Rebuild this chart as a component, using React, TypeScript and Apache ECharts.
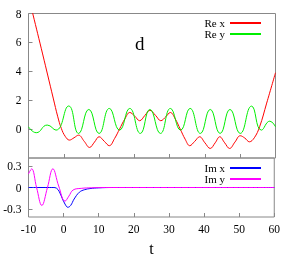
import React, { useEffect, useRef } from "react";
import * as echarts from "echarts";

// t, value pairs
const reX: [number, number][] = [
  [-10, 9.2], [-8.8, 8.0], [-6, 5.2], [-3, 2.15], [-1.7, 0.85], [-0.7, 0.05], [0.4, -0.5], [1.6, -0.76],
  [2.9, -0.6], [4.2, -0.42], [5.8, -0.85], [7.3, -1.27], [8.7, -0.9], [10, -0.53], [11.5, -0.85], [12.9, -1.15],
  [14.4, -0.65], [15.8, 0.0], [17.3, 0.7], [18.7, 1.15], [20.1, 0.9], [21.5, 0.58], [23.0, 0.95], [24.4, 1.3],
  [26.0, 0.95], [27.5, 0.58], [28.9, 0.85], [30.2, 1.15], [31.6, 0.7], [33.0, 0.0], [34.4, -0.7], [35.7, -1.15],
  [37.1, -0.85], [38.5, -0.53], [40.0, -0.95], [41.5, -1.34], [42.9, -0.95], [44.2, -0.53], [45.6, -0.95],
  [47.0, -1.34], [48.5, -0.9], [50.0, -0.46], [51.3, -0.62], [52.6, -0.88], [54.0, -0.6], [55.5, 0.16],
  [57.5, 1.8], [60, 3.9],
];

const reY: [number, number][] = [
  [-10, 0.16], [-7.8, -0.25], [-4.7, 0.28], [-2.2, -0.07], [1.4, 1.6], [4.2, -0.3], [7.1, 1.36], [10, -0.3],
  [12.9, 1.43], [15.8, -0.07], [18.7, 1.43], [21.7, -0.3], [24.4, 1.36], [27.4, -0.3], [30.2, 1.43],
  [33.1, -0.07], [35.8, 1.43], [38.7, -0.3], [41.5, 1.36], [44.3, -0.3], [47.1, 1.36], [50, -0.3],
  [53.2, 1.59], [56, -0.07], [58.4, 0.55], [60, 0.16],
];

const imX: [number, number][] = [
  [-10, 0], [-3, 0], [-2, -0.01], [-1.2, -0.06], [-0.4, -0.15], [0.4, -0.23], [1.2, -0.275], [2.0, -0.25],
  [3.0, -0.16], [4.5, -0.065], [6.0, -0.03], [7.5, -0.015], [10, -0.005], [14, 0], [60, 0],
];

const imY: [number, number][] = [
  [-10, 0.19], [-9.1, 0.26], [-7.7, 0.0], [-6.2, -0.25], [-4.6, 0.0], [-3.05, 0.26], [-1.4, 0.02],
  [0.4, -0.19], [1.5, -0.12], [2.7, -0.035], [5, -0.012], [8, -0.004], [12, 0], [60, 0],
];

const topTicks = [0, 2, 4, 6, 8];
const bottomTicks = [-0.3, 0, 0.3];

const FONT = "Liberation Serif";

export default function App() {
  const ref = useRef<HTMLDivElement>(null);
  useEffect(() => {
    if (!ref.current) return;
    const chart = echarts.init(ref.current, undefined, { renderer: "svg" });
    const gray = "#888888";
    const xCommon = {
      type: "value" as const,
      min: -10,
      max: 60,
      interval: 10,
      axisLine: { show: false, onZero: false },
      axisTick: { show: true, inside: true, length: 4, lineStyle: { color: gray } },
      splitLine: { show: false },
    };
    const legendCommon = {
      orient: "vertical" as const,
      align: "right" as const,
      right: 17,
      itemWidth: 31,
      itemHeight: 2,
      itemGap: 0,
      icon: "rect",
      textStyle: { fontFamily: FONT, fontSize: 11, color: "#000", lineHeight: 11 },
    };
    chart.setOption({
      animation: false,
      grid: [
        { left: 28.5, right: 7.5, top: 13.5, height: 144.5, show: true, borderColor: gray, borderWidth: 1, backgroundColor: "transparent" },
        { left: 28.5, right: 7.5, top: 158, height: 63, show: true, borderColor: gray, borderWidth: 1, backgroundColor: "transparent" },
      ],
      xAxis: [
        { ...xCommon, gridIndex: 0, axisLabel: { show: false } },
        {
          ...xCommon,
          gridIndex: 1,
          axisLabel: { show: true, margin: 6, fontFamily: FONT, fontSize: 11.5, color: "#000" },
          name: "t",
          nameLocation: "middle",
          nameGap: 23,
          nameTextStyle: { fontFamily: FONT, fontSize: 16, color: "#000" },
        },
      ],
      yAxis: [
        {
          type: "value",
          gridIndex: 0,
          min: -2,
          max: 8,
          axisLine: { show: false, onZero: false },
          splitLine: { show: false },
          axisTick: { show: true, inside: true, length: 4, lineStyle: { color: gray }, customValues: topTicks },
          axisLabel: { show: true, margin: 7, fontFamily: FONT, fontSize: 11.5, color: "#000", customValues: topTicks },
        },
        {
          type: "value",
          gridIndex: 1,
          min: -0.41,
          max: 0.41,
          axisLine: { show: false, onZero: false },
          splitLine: { show: false },
          axisTick: { show: true, inside: true, length: 4, lineStyle: { color: gray }, customValues: bottomTicks },
          axisLabel: {
            show: true,
            margin: 7,
            fontFamily: FONT,
            fontSize: 11.5,
            color: "#000",
            customValues: bottomTicks,
            formatter: (v: number) => (Math.abs(v) < 1e-9 ? "0" : String(v)),
          },
        },
      ],
      legend: [
        { ...legendCommon, data: ["Re x", "Re y"], top: 12.5 },
        { ...legendCommon, data: ["Im x", "Im y"], top: 157.5 },
      ],
      graphic: [
        {
          type: "text",
          left: 135,
          top: 34,
          style: { text: "d", fontFamily: FONT, fontSize: 19, fill: "#000" },
        },
      ],
      series: [
        { name: "Re x", type: "line", xAxisIndex: 0, yAxisIndex: 0, data: reX, showSymbol: false, smooth: 0.4, color: "#ff0000", lineStyle: { width: 1 } },
        { name: "Re y", type: "line", xAxisIndex: 0, yAxisIndex: 0, data: reY, showSymbol: false, smooth: 0.5, color: "#00ee00", lineStyle: { width: 1 } },
        { name: "Im x", type: "line", xAxisIndex: 1, yAxisIndex: 1, data: imX, showSymbol: false, smooth: 0.4, color: "#0000ff", lineStyle: { width: 1 } },
        { name: "Im y", type: "line", xAxisIndex: 1, yAxisIndex: 1, data: imY, showSymbol: false, smooth: 0.4, color: "#ff00ff", lineStyle: { width: 1 } },
      ],
    });
    return () => chart.dispose();
  }, []);
  return <div ref={ref} style={{ position: "fixed", left: 0, top: 0, width: 283, height: 257 }} />;
}
